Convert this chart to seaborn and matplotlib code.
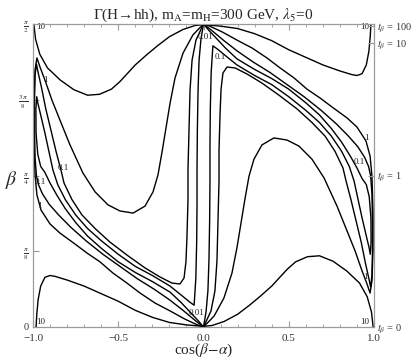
import numpy as np
import matplotlib
matplotlib.use("Agg")
import matplotlib.pyplot as plt
from matplotlib.ticker import MultipleLocator
import seaborn as sns

# contour lines: x = cos(beta-alpha), f = beta / (pi/2)

# Gamma = 10, upper curve
g10_top_c = [-0.995, -0.985, -0.96, -0.915, -0.84, -0.76, -0.68, -0.61, -0.54, -0.49, -0.40, -0.33, -0.27, -0.20, -0.12, -0.05, 0.0,
             0.10, 0.20, 0.30, 0.40, 0.50, 0.60, 0.70, 0.80, 0.87, 0.90, 0.93, 0.955, 0.97, 0.978, 0.982]
g10_top_f = [1.0, 0.95, 0.90, 0.855, 0.815, 0.783, 0.765, 0.768, 0.785, 0.81, 0.865, 0.90, 0.928, 0.958, 0.982, 0.995, 0.998,
             0.993, 0.985, 0.968, 0.945, 0.915, 0.89, 0.865, 0.845, 0.833, 0.830, 0.836, 0.865, 0.91, 0.96, 1.0]

# Gamma = 10, lower curve
g10_bot_c = [-0.982, -0.978, -0.97, -0.955, -0.93, -0.90, -0.87, -0.80, -0.70, -0.60, -0.50, -0.40, -0.30, -0.20, -0.10, 0.0,
             0.05, 0.12, 0.20, 0.27, 0.33, 0.40, 0.49, 0.54, 0.61, 0.68, 0.76, 0.84, 0.915, 0.96, 0.985, 0.995]
g10_bot_f = [0.0, 0.04, 0.09, 0.135, 0.164, 0.170, 0.167, 0.155, 0.135, 0.11, 0.085, 0.055, 0.032, 0.015, 0.007, 0.002,
             0.005, 0.018, 0.042, 0.072, 0.10, 0.135, 0.19, 0.215, 0.232, 0.235, 0.217, 0.185, 0.145, 0.10, 0.05, 0.0]

# Gamma = 1, left and right
g1_left_c = [0.0, -0.062, -0.120, -0.167, -0.196, -0.220, -0.243, -0.267, -0.296, -0.343, -0.413, -0.490, -0.560, -0.636,
             -0.707, -0.783, -0.842, -0.889, -0.930, -0.959, -0.977, -0.988, -0.994, -0.994, -0.988, -0.977, -0.953, -0.900,
             -0.842, -0.754, -0.683, -0.607, -0.531, -0.449, -0.372, -0.284, -0.196, -0.109, -0.04, 0.0]
g1_left_f = [1.0, 0.964, 0.904, 0.822, 0.739, 0.657, 0.578, 0.502, 0.446, 0.399, 0.376, 0.383, 0.403, 0.446,
             0.508, 0.601, 0.683, 0.749, 0.815, 0.858, 0.888, 0.848, 0.749, 0.617, 0.502, 0.436, 0.386, 0.340,
             0.310, 0.274, 0.244, 0.215, 0.178, 0.145, 0.112, 0.079, 0.053, 0.026, 0.008, 0.0]
g1_right_c = [0.0, 0.062, 0.120, 0.167, 0.196, 0.220, 0.243, 0.267, 0.296, 0.343, 0.413, 0.490, 0.560, 0.636,
              0.707, 0.783, 0.842, 0.889, 0.930, 0.959, 0.977, 0.988, 0.994, 0.994, 0.988, 0.977, 0.953, 0.900,
              0.842, 0.754, 0.683, 0.607, 0.531, 0.449, 0.372, 0.284, 0.196, 0.109, 0.04, 0.0]
g1_right_f = [0.0, 0.036, 0.096, 0.178, 0.261, 0.343, 0.422, 0.498, 0.554, 0.601, 0.624, 0.617, 0.597, 0.554,
              0.492, 0.399, 0.317, 0.251, 0.185, 0.142, 0.112, 0.152, 0.251, 0.383, 0.498, 0.564, 0.614, 0.660,
              0.690, 0.726, 0.756, 0.785, 0.822, 0.855, 0.888, 0.921, 0.947, 0.974, 0.992, 1.0]

# Gamma = 0.1, left and right
g01_left_c = [0.0, -0.044, -0.067, -0.079, -0.085, -0.091, -0.091, -0.097, -0.103, -0.114, -0.138, -0.185, -0.255, -0.343,
              -0.443, -0.548, -0.636, -0.713, -0.771, -0.818, -0.836, -0.865, -0.895, -0.925, -0.950, -0.970, -0.980,
              -0.988, -0.991, -0.991, -0.988, -0.980, -0.968, -0.945, -0.905, -0.85, -0.78, -0.69, -0.59, -0.49, -0.39,
              -0.29, -0.20, -0.12, -0.05, 0.0]
g01_left_f = [1.0, 0.947, 0.881, 0.782, 0.650, 0.518, 0.419, 0.297, 0.215, 0.162, 0.142, 0.145, 0.165, 0.195,
              0.235, 0.28, 0.325, 0.37, 0.42, 0.475, 0.518, 0.58, 0.65, 0.72, 0.79, 0.84, 0.868,
              0.83, 0.75, 0.65, 0.56, 0.50, 0.47, 0.44, 0.405, 0.37, 0.33, 0.285, 0.24, 0.20, 0.16,
              0.125, 0.09, 0.055, 0.022, 0.0]
g01_right_c = [0.0, 0.044, 0.067, 0.079, 0.085, 0.091, 0.091, 0.097, 0.103, 0.114, 0.138, 0.185, 0.255, 0.343,
               0.443, 0.548, 0.636, 0.713, 0.771, 0.818, 0.836, 0.865, 0.895, 0.925, 0.950, 0.970, 0.980,
               0.988, 0.991, 0.991, 0.988, 0.980, 0.968, 0.945, 0.905, 0.85, 0.78, 0.69, 0.59, 0.49, 0.39,
               0.29, 0.20, 0.12, 0.05, 0.0]
g01_right_f = [0.0, 0.053, 0.119, 0.218, 0.350, 0.482, 0.581, 0.703, 0.785, 0.838, 0.858, 0.855, 0.835, 0.805,
               0.765, 0.72, 0.675, 0.63, 0.58, 0.525, 0.482, 0.42, 0.35, 0.28, 0.21, 0.16, 0.132,
               0.17, 0.25, 0.35, 0.44, 0.50, 0.53, 0.56, 0.595, 0.63, 0.67, 0.715, 0.76, 0.80, 0.84,
               0.875, 0.91, 0.945, 0.978, 1.0]

# Gamma = 0.01, left and right
g001_left_c = [0.0, -0.015, -0.026, -0.032, -0.036, -0.038, -0.038, -0.040, -0.045, -0.055, -0.08, -0.13, -0.196, -0.30,
               -0.40, -0.50, -0.60, -0.68, -0.75, -0.81, -0.855, -0.883, -0.905, -0.93, -0.955, -0.972, -0.978,
               -0.983, -0.982, -0.972, -0.955, -0.93, -0.90, -0.86, -0.81, -0.75, -0.68, -0.60, -0.50, -0.40,
               -0.30, -0.196, -0.13, -0.08, -0.03, 0.0]
g001_left_f = [1.0, 0.95, 0.88, 0.78, 0.65, 0.52, 0.40, 0.28, 0.16, 0.072, 0.082, 0.105, 0.135, 0.17,
               0.20, 0.24, 0.285, 0.325, 0.37, 0.42, 0.47, 0.518, 0.575, 0.64, 0.70, 0.74, 0.76,
               0.72, 0.64, 0.57, 0.53, 0.51, 0.475, 0.435, 0.39, 0.345, 0.30, 0.26, 0.215, 0.18,
               0.15, 0.115, 0.08, 0.05, 0.02, 0.0]
g001_right_c = [0.0, 0.015, 0.026, 0.032, 0.036, 0.038, 0.038, 0.040, 0.045, 0.055, 0.08, 0.13, 0.196, 0.30,
                0.40, 0.50, 0.60, 0.68, 0.75, 0.81, 0.855, 0.883, 0.905, 0.93, 0.955, 0.972, 0.978,
                0.983, 0.982, 0.972, 0.955, 0.93, 0.90, 0.86, 0.81, 0.75, 0.68, 0.60, 0.50, 0.40,
                0.30, 0.196, 0.13, 0.08, 0.03, 0.0]
g001_right_f = [0.0, 0.05, 0.12, 0.22, 0.35, 0.48, 0.60, 0.72, 0.84, 0.928, 0.918, 0.895, 0.865, 0.83,
                0.80, 0.76, 0.715, 0.675, 0.63, 0.58, 0.53, 0.482, 0.425, 0.36, 0.30, 0.26, 0.24,
                0.28, 0.36, 0.43, 0.47, 0.49, 0.525, 0.565, 0.61, 0.655, 0.70, 0.74, 0.785, 0.82,
                0.85, 0.885, 0.92, 0.95, 0.98, 1.0]

# contour labels
label_text = ["10", "10", "10", "10", "1", "1", "1", "1", "0.1", "0.1", "0.1", "0.1", "0.01", "0.01"]
label_c = [-0.955, -0.955, 0.945, 0.945, -0.925, -0.965, 0.958, 0.952, -0.82, -0.955, 0.10, 0.915, 0.012, -0.04]
label_f = [0.99, 0.015, 0.99, 0.018, 0.815, 0.40, 0.625, 0.165, 0.525, 0.48, 0.89, 0.545, 0.957, 0.045]

# tick labels
x_ticks = [-1.0, -0.5, 0.0, 0.5, 1.0]
x_ticklabels = ["\u22121.0", "\u22120.5", "0.0", "0.5", "1.0"]
beta_ticks_frac = [0, 0.25, 0.5, 0.75, 1.0]
beta_ticklabels = ["0", r"$\frac{\pi}{8}$", r"$\frac{\pi}{4}$", r"$\frac{3\,\pi}{8}$", r"$\frac{\pi}{2}$"]
tb_values = [0, 1, 10, 100]
tb_labels = [r"$t_\beta$ = 0", r"$t_\beta$ = 1", r"$t_\beta$ = 10", r"$t_\beta$ = 100"]

curves = [
    (g10_top_c, g10_top_f), (g10_bot_c, g10_bot_f),
    (g1_left_c, g1_left_f), (g1_right_c, g1_right_f),
    (g01_left_c, g01_left_f), (g01_right_c, g01_right_f),
    (g001_left_c, g001_left_f), (g001_right_c, g001_right_f),
]

sns.set_style("ticks")
plt.rcParams['font.family'] = ['Liberation Serif', 'DejaVu Serif']
plt.rcParams['mathtext.fontset'] = 'stix'

fig = plt.figure(figsize=(4.15, 3.59), dpi=100)
ax = fig.add_axes([33 / 415, 32 / 359, 341 / 415, 303 / 359])

for cc, ff in curves:
    sns.lineplot(x=cc, y=np.array(ff) * np.pi / 2, sort=False, estimator=None,
                 color="black", linewidth=1.0, ax=ax)

for t, cc, ff in zip(label_text, label_c, label_f):
    ax.text(cc, ff * np.pi / 2, t, fontsize=6.5, ha="center", va="center", color="#222222")

ax.set_xlim(-1, 1)
ax.set_ylim(0, np.pi / 2)
ax.set_xticks(x_ticks)
ax.set_xticklabels(x_ticklabels)
ax.xaxis.set_minor_locator(MultipleLocator(0.1))
ax.set_yticks(np.array(beta_ticks_frac) * np.pi / 2)
ax.set_yticklabels(beta_ticklabels)

gray = "#9a9a9a"
ax.tick_params(axis="x", which="major", direction="in", length=4, color=gray, top=True,
               labelsize=8, labelcolor="#333333", pad=5)
ax.tick_params(axis="x", which="minor", direction="in", length=2, color=gray, top=True)
ax.tick_params(axis="y", which="major", direction="in", length=4, color=gray,
               labelsize=7.5, labelcolor="#333333", pad=3)

ax2 = ax.twinx()
ax2.set_ylim(0, np.pi / 2)
ax2.set_yticks(np.arctan(tb_values))
ax2.set_yticklabels(tb_labels)
ax2.tick_params(axis="y", direction="in", length=4, color=gray, labelsize=7.5, labelcolor="#333333", pad=2)

for a in (ax, ax2):
    for s in a.spines.values():
        s.set_color(gray)
        s.set_linewidth(0.8)

ax.set_xlabel(r"cos($\beta\!-\!\alpha$)", fontsize=11, labelpad=-1)
ax.set_ylabel(r"$\beta$", fontsize=14, rotation=0)
ax.yaxis.set_label_coords(-0.062, 0.45)
ax.set_title("\u0393(H\u2192hh), m$_{\\rm A}$=m$_{\\rm H}$=300 GeV, $\\lambda_5$=0", fontsize=11, pad=3)

plt.savefig("out.png", dpi=100)
